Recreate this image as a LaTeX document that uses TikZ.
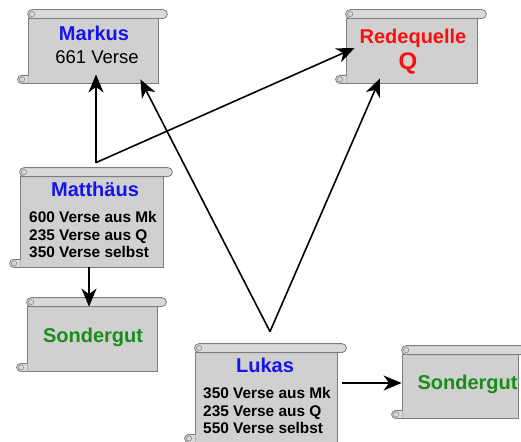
\documentclass[tikz,border=0pt]{standalone}
\usepackage{fontspec}
\setmainfont{Liberation Sans}
\usetikzlibrary{arrows.meta, positioning, calc}
\definecolor{scrollgray}{RGB}{208,208,208}
\definecolor{rollgray}{RGB}{217,217,217}
\definecolor{scrollline}{RGB}{125,125,125}
\definecolor{mkblue}{RGB}{20,20,235}
\definecolor{qred}{RGB}{250,15,15}
\definecolor{sgreen}{RGB}{25,140,25}
\tikzset{
  scroll/.style={rectangle,draw=scrollline,fill=scrollgray,line width=0.8pt,inner sep=0pt},
  roll/.style={draw=scrollline,fill=rollgray,line width=0.8pt},
  curl/.style={draw=scrollline,line width=0.5pt},
  title/.style={font=\fontsize{20}{24}\selectfont\bfseries,inner sep=0pt},
  verses/.style={font=\fontsize{15.4}{17.5}\selectfont\bfseries,align=left,anchor=west,inner sep=0pt},
  link/.style={line width=1.6pt,-{Stealth[length=18pt,width=15pt,inset=5.5pt]}},
}

\begin{document}
\begin{tikzpicture}[x=1pt,y=-1pt]
  \clip (0,0) rectangle (521,441);
  % scroll bodies
  \node[scroll,minimum width=130pt,minimum height=65pt] (markus) at (93,50.5) {};
  \node[scroll,minimum width=131pt,minimum height=65pt] (quelle) at (411.5,50.5) {};
  \node[scroll,minimum width=143pt,minimum height=91pt] (matth) at (91.5,221.5) {};
  \node[scroll,minimum width=130pt,minimum height=65pt] (sondermt) at (92,338.5) {};
  \node[scroll,minimum width=142pt,minimum height=90pt] (lukas) at (266,397) {};
  \node[scroll,minimum width=116pt,minimum height=64pt] (sonderlk) at (460,386) {};
  % rolls
  \foreach \n in {markus,quelle,matth,sondermt,lukas,sonderlk} {
    \draw[roll] ([xshift=1pt]\n.south west) -- ([xshift=-6pt]\n.south west)
      [rounded corners=4pt] -- ([xshift=-10pt]\n.south west) -- ([xshift=-10pt,yshift=8pt]\n.south west)
      [sharp corners] -- ([xshift=1pt,yshift=8pt]\n.south west);
    \draw[curl] ([xshift=-5.5pt,yshift=4pt]\n.south west) circle[radius=2.6pt];
    \draw[roll,rounded corners=4.5pt] ([yshift=-1pt]\n.north west) rectangle ([xshift=9pt,yshift=8pt]\n.north east);
    \draw[curl] ([xshift=4.5pt,yshift=3.5pt]\n.north west) circle[radius=2.6pt];
  }
  % texts
  \node[title,text=mkblue] (markusT) at (94,33) {Markus};
  \node[font=\fontsize{18.5}{22}\selectfont,inner sep=0pt] (markusV) at (97,57) {661 Verse};
  \node[title,text=qred] (quelleT) at (413,38) {Redequelle};
  \node[font=\fontsize{24}{26}\selectfont\bfseries,text=qred,inner sep=0pt] (quelleQ) at (408,63) {Q};
  \node[title,text=mkblue] (matthT) at (95,189) {Matthäus};
  \node[verses] (matthL) at (29,235) {600 Verse aus Mk\\235 Verse aus Q\\350 Verse selbst};
  \node[title,text=sgreen] (sondermtT) at (93,337) {Sondergut};
  \node[title,text=mkblue] (lukasT) at (265,365) {Lukas};
  \node[verses] (lukasL) at (203,410.5) {350 Verse aus Mk\\235 Verse aus Q\\550 Verse selbst};
  \node[title,text=sgreen] (sonderlkT) at (467.5,384.5) {Sondergut};
  % connectors
  \coordinate (mt) at ([xshift=4.5pt,yshift=13pt]matth.north);
  \coordinate (lk) at ([xshift=4pt,yshift=20pt]lukas.north);
  \draw[link] (mt) -- ([yshift=9pt]mt |- markus.south);
  \draw[link] (mt) -- ([xshift=9pt,yshift=2.5pt]quelle.west);
  \draw[link] (lk) -- ([xshift=-18pt,yshift=4pt]markus.south east);
  \draw[link] (lk) -- ([xshift=-31.5pt,yshift=5pt]quelle.south);
  \draw[link] ([xshift=-2.5pt]matth.south) -- ([xshift=-3pt,yshift=-1pt]sondermt.north);
  \draw[link] ([xshift=5pt,yshift=14pt]lukas.east) -- ([yshift=3pt]sonderlk.west);
\end{tikzpicture}
\end{document}
